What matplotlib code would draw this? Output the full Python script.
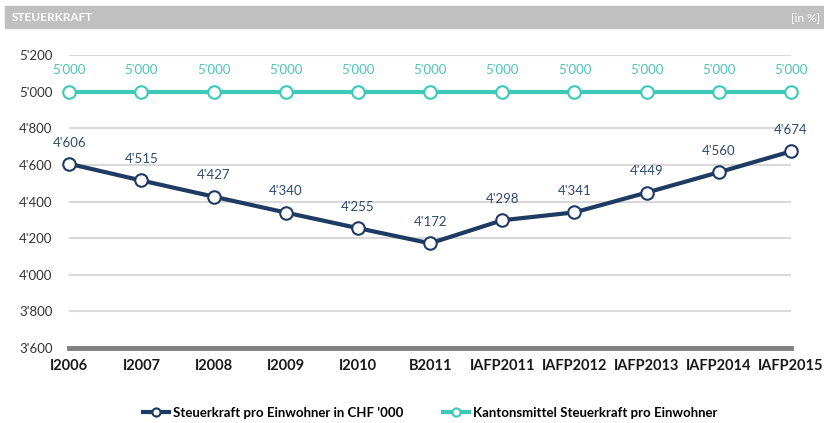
import matplotlib.pyplot as plt
from matplotlib.patches import Rectangle
from matplotlib.ticker import FuncFormatter

plt.rcParams['font.family'] = ['Lato', 'DejaVu Sans']

categories = ["I2006", "I2007", "I2008", "I2009", "I2010", "B2011",
              "IAFP2011", "IAFP2012", "IAFP2013", "IAFP2014", "IAFP2015"]
steuerkraft = [4606, 4515, 4427, 4340, 4255, 4172, 4298, 4341, 4449, 4560, 4674]
kantonsmittel = [5000] * 11

navy = "#1f3a63"
teal = "#3cc9b7"


def fmt(v):
    return f"{int(v):,}".replace(",", "'")


fig = plt.figure(figsize=(8.24, 4.23), dpi=100)
ax = fig.add_axes([0.084, 0.177, 0.876, 0.693])

x = list(range(len(categories)))
ax.plot(x, steuerkraft, color=navy, lw=3, marker="o", ms=9, mfc="white",
        mec=navy, mew=1.5, clip_on=False, zorder=4,
        label="Steuerkraft pro Einwohner in CHF '000")
ax.plot(x, kantonsmittel, color=teal, lw=3, marker="o", ms=9, mfc="white",
        mec=teal, mew=1.5, clip_on=False, zorder=4,
        label="Kantonsmittel Steuerkraft pro Einwohner")

for xi, v in zip(x, steuerkraft):
    ax.annotate(fmt(v), (xi, v), xytext=(0, 11), textcoords="offset points",
                ha="center", va="bottom", color="#2e4a6e", fontsize=9.5)
for xi, v in zip(x, kantonsmittel):
    ax.annotate(fmt(v), (xi, v), xytext=(0, 11), textcoords="offset points",
                ha="center", va="bottom", color="#4cc2b4", fontsize=9.5)

ax.set_xlim(0, len(categories) - 1)
ax.set_ylim(3600, 5200)
ax.set_yticks(range(3600, 5201, 200))
ax.yaxis.set_major_formatter(FuncFormatter(lambda v, p: fmt(v)))
ax.set_xticks(x)
ax.set_xticklabels(categories, fontweight="bold", fontsize=10.5, color="#1a1a1a")
ax.tick_params(axis="y", length=0, labelsize=9.5, labelcolor="#333333", pad=12)
ax.tick_params(axis="x", length=0, pad=8)
ax.grid(axis="y", color="#d9d9d9", lw=1.5)
ax.set_axisbelow(True)
for s in ["top", "right", "left"]:
    ax.spines[s].set_visible(False)
ax.spines["bottom"].set_color("#7f7f7f")
ax.spines["bottom"].set_linewidth(3.5)

ax.legend(loc="upper center", bbox_to_anchor=(0.5, -0.16), ncol=2, frameon=False,
          handlelength=2.0, columnspacing=3.0, markerscale=0.65, handletextpad=0.3,
          prop={"weight": "bold", "size": 9.5})

# header bar
fig.patches.append(Rectangle((0.006, 0.933), 0.994, 0.052, transform=fig.transFigure,
                             color="#c0c0c0", zorder=0))
fig.text(0.014, 0.959, "STEUERKRAFT", color="white", fontsize=8.5, fontweight="bold",
         va="center", ha="left")
fig.text(0.995, 0.959, "[in %]", color="white", fontsize=8.5, va="center", ha="right")

fig.savefig("out.png", dpi=100)
